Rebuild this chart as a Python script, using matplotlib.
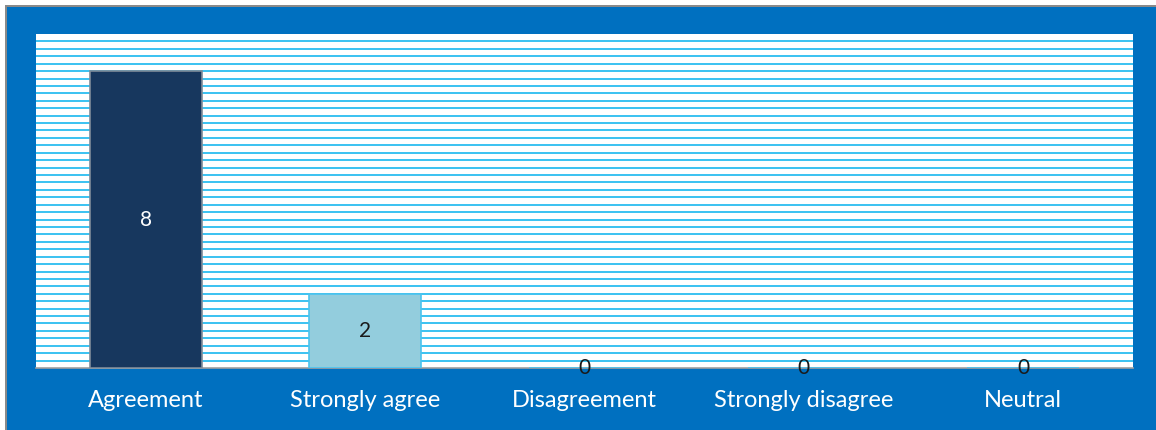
import numpy as np
import matplotlib.pyplot as plt
from matplotlib.patches import Rectangle

categories = ['Agreement', 'Strongly agree', 'Disagreement', 'Strongly disagree', 'Neutral']
counts = [8, 2, 0, 0, 0]
bar_colors = ['#17375E', '#93CDDD', '#93CDDD', '#93CDDD', '#93CDDD']
edge_colors = ['#7F8C9A', '#4BC3EE', '#4BC3EE', '#4BC3EE', '#4BC3EE']
label_colors = ['white', '#1a1a1a', '#1a1a1a', '#1a1a1a', '#1a1a1a']

W, H = 1156, 430
fig = plt.figure(figsize=(W / 100, H / 100), dpi=100, facecolor='white')

# gray frame edge and blue panel behind the chart
fig.patches.append(Rectangle((5 / W, 0), 1, 1 - 5 / H, transform=fig.transFigure,
                             facecolor='#8A8A8A', edgecolor='none', zorder=-10))
fig.patches.append(Rectangle((7 / W, 0), 1, 1 - 7 / H, transform=fig.transFigure,
                             facecolor='#0070C0', edgecolor='none', zorder=-9))

ax = fig.add_axes([36 / W, (H - 368) / H, (1133 - 36) / W, (368 - 34) / H])
ax.set_zorder(1)
ax.set_facecolor('white')

x = np.arange(len(categories))
ax.bar(x, counts, width=0.51, color=bar_colors, edgecolor=edge_colors, linewidth=1.2, zorder=3)

for xi, v, c in zip(x, counts, label_colors):
    ax.text(xi, v / 2, str(v), ha='center', va='center', color=c,
            fontsize=15, family='Lato', zorder=4, clip_on=False)

ax.set_xlim(-0.5, len(categories) - 0.5)
ax.set_ylim(0, 9)

# horizontal stripes
for yv in np.arange(0.2, 9.0, 0.2):
    ax.axhline(yv, color='#2BBDF0', linewidth=1.3, zorder=1)

ax.set_yticks([])
ax.set_xticks(x)
ax.set_xticklabels(categories, color='white', fontsize=17, family='Lato')
ax.tick_params(axis='x', length=0, pad=16)
for side in ['top', 'right', 'left']:
    ax.spines[side].set_visible(False)
ax.spines['bottom'].set_color('#A0A0A0')
ax.spines['bottom'].set_linewidth(1.2)

fig.savefig('out.png', dpi=100, facecolor=fig.get_facecolor())
